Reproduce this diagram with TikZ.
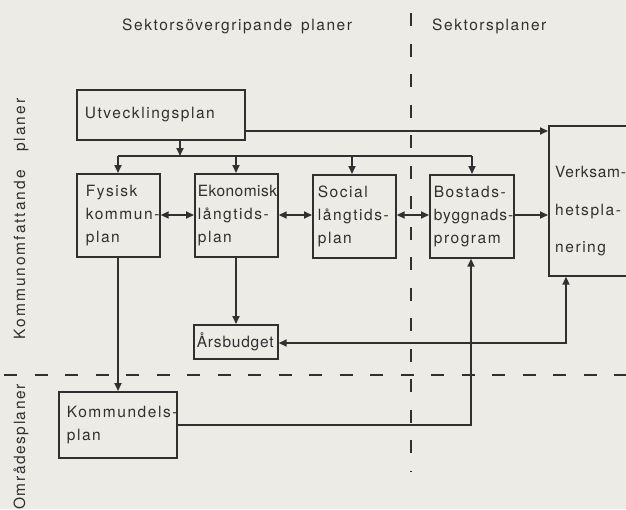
\documentclass[tikz,border=0pt]{standalone}
\usepackage{fontspec}
\setmainfont{TeX Gyre Heros}[LetterSpace=10]
\usetikzlibrary{arrows.meta}
\definecolor{paper}{HTML}{ECEBE6}
\definecolor{ink}{HTML}{303030}
\hyphenpenalty=10000
\exhyphenpenalty=10000
\begin{document}
\begin{tikzpicture}[x=1pt,y=-1pt,
  >={Triangle[length=8pt,width=7pt]},
  every node/.style={font=\fontsize{15.5}{23}\selectfont, text=ink},
  conn/.style={draw=ink, line width=1.7pt},
  dashline/.style={draw=ink, line width=1.7pt, dash pattern=on 13pt off 17.5pt},
  box/.style={draw=ink, line width=1.7pt, rectangle, anchor=north west,
    inner ysep=0pt, align=left}
]
\useasboundingbox (0,0) rectangle (626,509);
\clip (0,0) rectangle (626,509);
\fill[paper] (0,0) rectangle (626,509);

% headings
\node[anchor=base west, inner sep=0pt] (t1) at (122,30) {Sektorsövergripande\hspace{3pt} planer};
\node[anchor=base west, inner sep=0pt] (t2) at (432,30) {Sektorsplaner};
\node[rotate=90, anchor=base, inner sep=0pt] (r1) at (25,219) {\addfontfeature{LetterSpace=13}Kommunomfattande\hspace{12pt} planer};
\node[rotate=90, anchor=base, inner sep=0pt] (r2) at (25,447) {Områdesplaner};

% dashed separators
\draw[dashline] (411,13) -- (411,472);
\draw[dashline] (4,375) -- (626,375);

% boxes
\node[box, inner xsep=8pt, text width=152pt, minimum height=50pt] (utv) at (76,89) {Utvecklingsplan};
\node[box, inner xsep=9pt, text width=65pt, minimum height=83pt] (fys) at (76,173) {Fysisk\\kommun-\\plan};
\node[box, inner xsep=3pt, text width=77pt, minimum height=83pt] (eko) at (194,173) {{\addfontfeature{LetterSpace=3}Ekonomisk}\\långtids-\\plan};
\node[box, inner xsep=5pt, text width=73pt, minimum height=83pt] (soc) at (312,174) {Social\\långtids-\\plan};
\node[box, inner xsep=4pt, text width=76pt, minimum height=83pt] (bos) at (429,174) {Bostads-\\{\addfontfeature{LetterSpace=6}byggnads-}\\program};
\node[box, inner xsep=3pt, text width=78pt, minimum height=34pt] (ars) at (193,324) {{\addfontfeature{LetterSpace=5}Årsbudget}};
\node[box, inner xsep=8pt, text width=102pt, minimum height=66pt] (kom) at (58,391) {Kommundels-\\plan};
\node[box, inner sep=0pt, minimum width=100pt, minimum height=150pt] (verk) at (548,125) {};
\node[anchor=north west, inner sep=0pt, align=left, font=\fontsize{15.5}{37.5}\selectfont] (verkt) at (555,166) {{\addfontfeature{LetterSpace=5}Verksam-}\\hetspla-\\nering};

% connector coordinates
\coordinate (b0) at (180,156);
\coordinate (b1) at (118,156);
\coordinate (b2) at (236,156);
\coordinate (b3) at (352,156);
\coordinate (b4) at (472,156);
\coordinate (u1) at (244,131);
\coordinate (h) at (0,215);
\coordinate (v1) at (566,343);
\coordinate (k1) at (471,425);

% connectors
\draw[conn,->] (utv.south -| b0) -- (b0);
\draw[conn] (b1) -- (b4);
\draw[conn,->] (b1) -- (b1 |- fys.north);
\draw[conn,->] (b2) -- (b2 |- eko.north);
\draw[conn,->] (b3) -- (b3 |- soc.north);
\draw[conn,->] (b4) -- (b4 |- bos.north);
\draw[conn,->] (u1) -- (u1 -| verk.west);
\draw[conn,<->] (fys.east |- h) -- (eko.west |- h);
\draw[conn,<->] (eko.east |- h) -- (soc.west |- h);
\draw[conn,<->] (soc.east |- h) -- (bos.west |- h);
\draw[conn,->] (bos.east |- h) -- (verk.west |- h);
\draw[conn,->] (eko.south -| b2) -- (ars.north -| b2);
\draw[conn,->] (fys.south -| b1) -- (kom.north -| b1);
\draw[conn,<->] (ars.east |- v1) -- (v1) -- (verk.south -| v1);
\draw[conn,->] (kom.east |- k1) -- (k1) -- (bos.south -| k1);
\end{tikzpicture}
\end{document}
